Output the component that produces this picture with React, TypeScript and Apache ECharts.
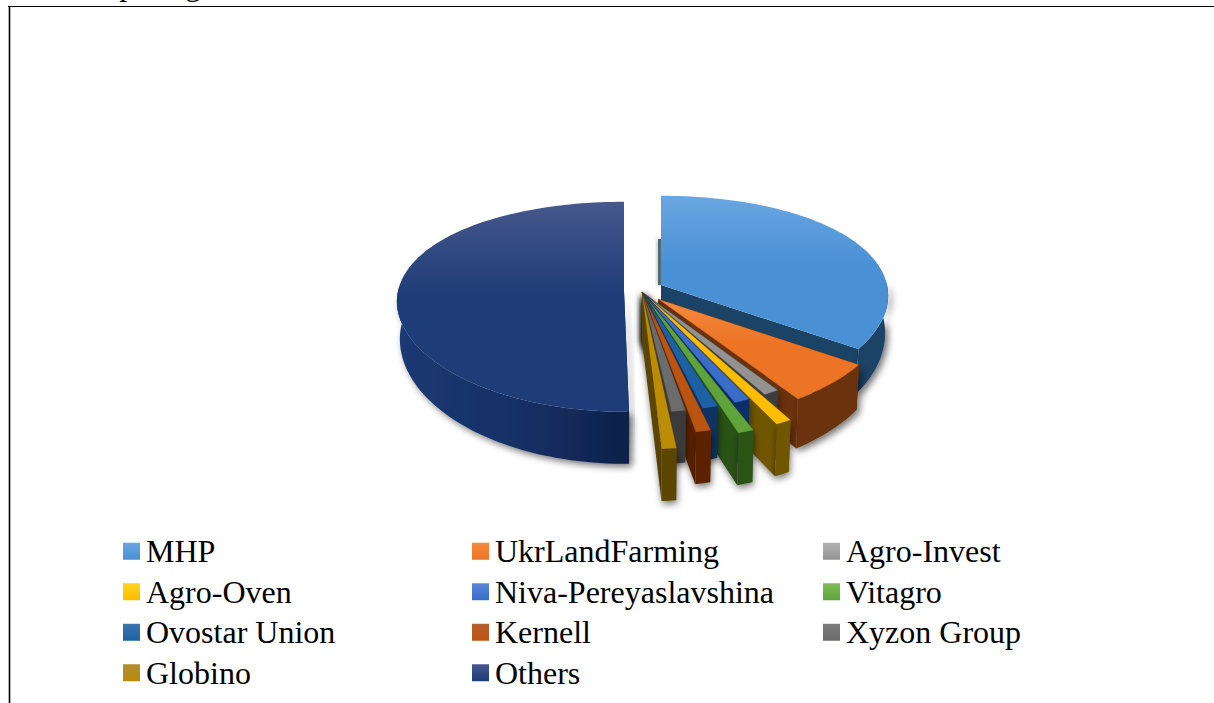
import React, { useEffect, useRef } from "react";
import * as echarts from "echarts";

const categories = ["MHP", "UkrLandFarming", "Agro-Invest", "Agro-Oven", "Niva-Pereyaslavshina", "Vitagro", "Ovostar Union", "Kernell", "Xyzon Group", "Globino", "Others"];
const shares = [34.5, 6.1, 1.1, 1.1, 1.1, 1.1, 1.1, 1.05, 1.0, 1.0, 50.85];

const legendColumns = [
  ["MHP", "Agro-Oven", "Ovostar Union", "Globino"],
  ["UkrLandFarming", "Niva-Pereyaslavshina", "Kernell", "Others"],
  ["Agro-Invest", "Vitagro", "Xyzon Group"],
];
const clippedCaption = "Comparing";

const topLight = ["#6aa6e2", "#f58a40", "#b3b3b3", "#ffd21f", "#5b86d8", "#7fbb55", "#3d76ac", "#b5602e", "#7c7c7c", "#b08c30", "#46588c"];
const topColor = ["#4a90d5", "#ec7424", "#929292", "#fdbd00", "#3a6dc8", "#5fa33a", "#1c61a3", "#bb5410", "#6c6c6c", "#bc8c06", "#1e3c78"];
const wallColor = ["#1a4366", "#6a3207", "#3e3e3e", "#6f5600", "#0f2f68", "#2a5316", "#0c3063", "#5c2406", "#3a3a3a", "#5c4500", "#12285a"];

const CX = 642, CY = 292, RX = 226, RY = 105;
// per-slice geometry: apex shift and how far the rim is pushed out along the slice's bisector
const apexShift: [number, number][] = [[19, -7], [16, 7], [0, 0], [0, 0], [0, 0], [0, 0], [0, 0], [0, 0], [0, 0], [0, 0], [-18, -1]];
const pushOut = [0, 0.02, 0, 0.21, 0, 0.21, 0, 0.16, 0, 0.26, 0];
const drawOrder = [10, 0, 1, 2, 3, 4, 5, 6, 7, 8, 9];

function project(X: number, Y: number, shift: [number, number]) {
  return [CX + shift[0] + X * RX * (1 + 0.1 * Y), CY + shift[1] + RY * Y * (1 + 0.15 * Y), Y, X];
}

function renderSlice(idx: number) {
  const small = idx >= 2 && idx < 10;
  const lower = (p: number[]) => {
    const d = small ? 48 + 4 * Math.min(p[2], 1) : 36 + 16 * p[2];
    return [p[0] - p[3] * 3, p[1] + d];
  };
  return (params: any, api: any) => {
    const total = shares.reduce((a, b) => a + b, 0);
    const before = shares.slice(0, idx).reduce((a, b) => a + b, 0);
    let a0 = (before / total) * Math.PI * 2;
    let a1 = ((before + api.value(0)) / total) * Math.PI * 2;
    if (idx === 10) a0 += 0.033;
    if (small) { a0 += 0.002; a1 -= 0.002; }
    const mid = (a0 + a1) / 2;
    const bx = Math.sin(mid) * pushOut[idx];
    const by = -Math.cos(mid) * pushOut[idx];
    const s = apexShift[idx];
    const steps = Math.max(2, Math.ceil((a1 - a0) / 0.03));
    const arc: number[][] = [];
    for (let i = 0; i <= steps; i++) {
      const a = a0 + ((a1 - a0) * i) / steps;
      arc.push(project(Math.sin(a) + bx, -Math.cos(a) + by, s));
    }
    const apex = project(0, 0, s);
    const topPts = [[apex[0], apex[1]], ...arc.map((p) => [p[0], p[1]])];
    const apexLow = lower(apex);
    const shadow = { shadowColor: "rgba(0,0,0,0.55)", shadowBlur: 7, shadowOffsetX: small ? 1 : 3, shadowOffsetY: 3 };
    const children: any[] = [];
    const last = arc[arc.length - 1];
    const first = arc[0];
    const wall = idx === 10
      ? {
          type: "linear", x: 0, y: 0, x2: 1, y2: 0,
          colorStops: [
            { offset: 0, color: "#1c3a74" },
            { offset: 0.6, color: "#152e62" },
            { offset: 1, color: "#0e2148" },
          ],
        }
      : wallColor[idx];
    const frontArc = arc.filter((p) => p[2] > -0.05);
    const rim = [...frontArc.map((p) => [p[0], p[1]]), ...frontArc.map(lower).reverse()];
    if (idx === 0) {
      children.push({
        type: "polygon",
        shape: { points: [[apex[0] - 3, apex[1] - 46], [apex[0], apex[1] - 46], [apex[0], apex[1]], [apex[0] - 3, apex[1]]] },
        style: { fill: "#55687a", shadowColor: "rgba(0,0,0,0.45)", shadowBlur: 4 },
      });
    } else {
      children.push({
        type: "polygon",
        shape: { points: [[apex[0], apex[1]], [first[0], first[1]], lower(first), apexLow] },
        style: { fill: wallColor[idx], ...(idx === 10 ? shadow : {}) },
      });
    }
    children.push({
      type: "polygon",
      shape: { points: [[apex[0], apex[1]], [last[0], last[1]], lower(last), apexLow] },
      style: { fill: wallColor[idx], ...(idx === 0 ? {} : shadow) },
    });
    children.push({ type: "polygon", shape: { points: rim }, style: { fill: wall, ...shadow } });
    children.push({
      type: "polygon",
      shape: { points: topPts },
      style: {
        fill: {
          type: "linear", x: 0, y: 0, x2: 0, y2: 1,
          colorStops: idx < 2 || idx === 10
            ? [
                { offset: 0, color: topLight[idx] },
                { offset: 0.45, color: topColor[idx] },
                { offset: 1, color: topColor[idx] },
              ]
            : [
                { offset: 0, color: topColor[idx] },
                { offset: 1, color: topColor[idx] },
              ],
        },
        stroke: wallColor[idx],
        lineWidth: idx === 10 || idx === 0 ? 0 : 0.3,
      },
    });
    return { type: "group", children };
  };
}

function legendEntry(name: string) {
  const i = categories.indexOf(name);
  return {
    name,
    itemStyle: {
      color: {
        type: "linear", x: 0, y: 0, x2: 0, y2: 1,
        colorStops: [
          { offset: 0, color: topLight[i] },
          { offset: 1, color: topColor[i] },
        ],
      },
    },
  };
}

export default function App() {
  const ref = useRef<HTMLDivElement>(null);
  useEffect(() => {
    const chart = echarts.init(ref.current!, null, { renderer: "svg" });
    const legendLeft = [123, 472, 823];
    chart.setOption({
      animation: false,
      backgroundColor: "#ffffff",
      textStyle: { fontFamily: "Liberation Serif" },
      legend: legendColumns.map((col, i) => ({
        data: col.map(legendEntry),
        orient: "vertical",
        left: legendLeft[i],
        top: 534,
        padding: 0,
        itemWidth: 17,
        itemHeight: 17,
        itemGap: 6,
        selectedMode: false,
        icon: "rect",
        textStyle: { fontFamily: "Liberation Serif", fontSize: 32, color: "#000", padding: [0, 0, 0, 1], height: 34.5, lineHeight: 34.5 },
      })),
      series: drawOrder.map((idx) => ({
        type: "custom",
        name: categories[idx],
        coordinateSystem: "none",
        renderItem: renderSlice(idx),
        data: [[shares[idx]]],
        silent: true,
      })),
      graphic: [
        { type: "text", x: 57, y: -0.5, style: { text: clippedCaption, font: "32px 'Liberation Serif'", fill: "#000", textVerticalAlign: "bottom" } },
        { type: "line", shape: { x1: 8, y1: 6.5, x2: 1214, y2: 6.5 }, style: { stroke: "#000", lineWidth: 1.2 } },
        { type: "line", shape: { x1: 9.5, y1: 6, x2: 9.5, y2: 703 }, style: { stroke: "#000", lineWidth: 1.6 } },
      ],
    });
    return () => chart.dispose();
  }, []);
  return <div ref={ref} style={{ position: "fixed", left: 0, top: 0, width: 1214, height: 703 }} />;
}
